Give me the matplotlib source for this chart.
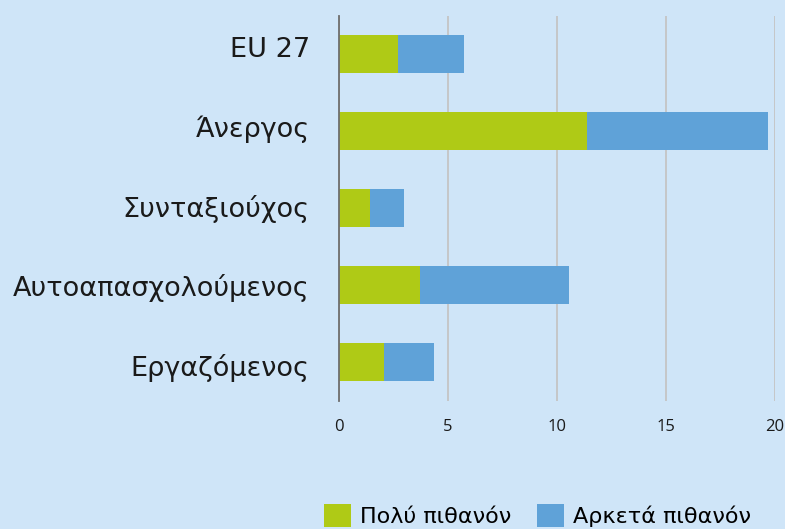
import matplotlib
matplotlib.use("Agg")
import matplotlib.pyplot as plt
import numpy as np

categories = ["EU 27", "Άνεργος", "Συνταξιούχος", "Αυτοαπασχολούμενος", "Εργαζόμενος"]
very_likely = [2.70, 11.38, 1.41, 3.73, 2.06]
fairly_likely = [3.05, 8.30, 1.57, 6.81, 2.30]
series_names = ["Πολύ πιθανόν", "Αρκετά πιθανόν"]
x_ticks = [0, 5, 10, 15, 20]

BG = "#cfe5f8"
GREEN = "#afca16"
BLUE = "#5fa2d8"

plt.rcParams["font.family"] = ["DejaVu Sans"]

fig = plt.figure(figsize=(7.85, 5.29), dpi=100, facecolor=BG)
ax = fig.add_axes([339 / 785, 1 - 400.5 / 529, 436 / 785, 385 / 529], facecolor=BG)

y = np.arange(len(categories))
ax.barh(y, very_likely, height=0.5, color=GREEN, label=series_names[0], zorder=3)
ax.barh(y, fairly_likely, left=very_likely, height=0.5, color=BLUE,
        label=series_names[1], zorder=3)

ax.set_ylim(len(categories) - 0.5, -0.5)
ax.set_xlim(0, 20)
# labels sit on a slightly wider spacing than the bars in the original
ax.set_yticks(y * 1.031 - 0.09)
ax.set_yticklabels(categories, fontsize=19.5, color="#1a1a1a")
ax.set_xticks(x_ticks)
ax.set_xticklabels([str(t) for t in x_ticks], fontsize=12, color="#1a1a1a",
                   family=["Open Sans", "DejaVu Sans"])
ax.tick_params(axis="y", length=0, pad=21)
ax.tick_params(axis="x", length=0, pad=13)

ax.grid(axis="x", color="#c4c4c4", linewidth=1.3, zorder=0)
for side in ["top", "right", "bottom"]:
    ax.spines[side].set_visible(False)
ax.spines["left"].set_color("#6e6e6e")
ax.spines["left"].set_linewidth(1.3)
ax.spines["left"].set_zorder(4)

fig.legend(
    loc="upper left",
    bbox_to_anchor=(324 / 785, 1 - 504 / 529),
    ncol=2,
    frameon=False,
    fontsize=16,
    borderpad=0,
    borderaxespad=0,
    handlelength=1.2,
    handleheight=1.2,
    handletextpad=0.4,
    columnspacing=1.2,
)

fig.savefig("out.png", dpi=100, facecolor=BG)
